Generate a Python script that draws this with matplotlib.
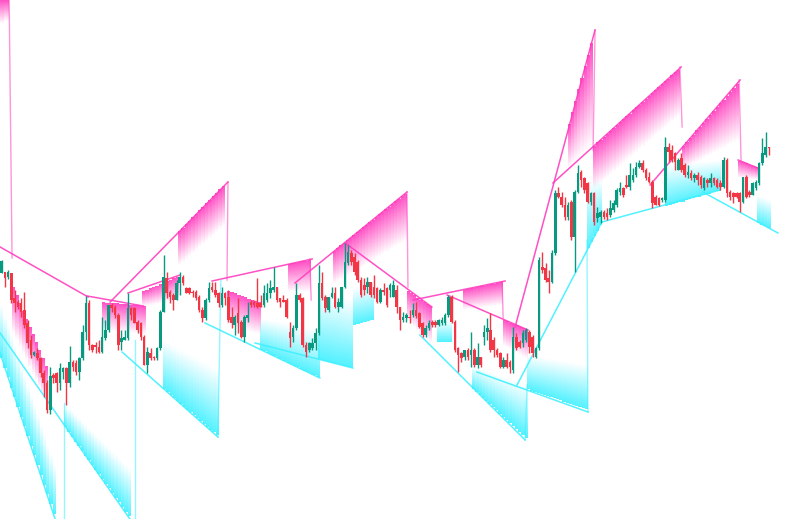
import numpy as np
import matplotlib
matplotlib.use('Agg')
import matplotlib.pyplot as plt

# candle data, price units (one bar per entry)
opens = [246, 247, 242, 246, 221, 217, 216, 209, 196, 179, 164, 166, 161, 146, 136, 109, 144, 146, 136, 147,
         151, 136, 157, 156, 147, 161, 187, 216, 174, 174, 172, 167, 181, 189, 214, 212, 204, 177, 179, 181,
         211, 211, 197, 196, 182, 154, 166, 162, 161, 171, 207, 241, 227, 224, 219, 236, 242, 231, 231, 227,
         227, 222, 209, 201, 219, 232, 229, 226, 214, 226, 222, 202, 194, 206, 197, 182, 201, 217, 217, 216,
         216, 214, 219, 226, 229, 232, 221, 219, 219, 187, 182, 191, 224, 221, 174, 169, 171, 176, 186, 236,
         222, 209, 222, 226, 212, 212, 232, 256, 266, 262, 257, 239, 234, 232, 237, 232, 231, 217, 229, 231,
         229, 222, 229, 212, 199, 201, 202, 204, 209, 206, 196, 184, 191, 197, 197, 194, 196, 196, 204, 222,
         197, 171, 166, 162, 169, 164, 169, 154, 162, 182, 187, 189, 179, 169, 166, 152, 159, 157, 149, 182,
         177, 176, 179, 187, 182, 162, 171, 252, 251, 241, 237, 266, 326, 322, 314, 302, 317, 282, 327, 347,
         341, 336, 317, 326, 301, 302, 307, 306, 304, 309, 314, 327, 331, 334, 332, 339, 344, 352, 356, 349,
         342, 337, 322, 321, 319, 319, 372, 369, 366, 349, 361, 354, 344, 346, 341, 344, 342, 331, 339, 336,
         341, 339, 336, 332, 359, 327, 326, 326, 326, 317, 342, 327, 324, 331, 336, 356, 364, 372]
highs = [259, 247, 249, 246, 229, 219, 221, 227, 199, 184, 168, 171, 162, 149, 139, 152, 146, 147, 156, 152,
         152, 173, 159, 159, 162, 194, 223, 219, 175, 177, 179, 202, 199, 214, 216, 214, 206, 189, 189, 226,
         212, 212, 199, 197, 184, 172, 171, 163, 172, 209, 264, 247, 229, 226, 239, 247, 244, 232, 232, 229,
         229, 224, 212, 221, 237, 237, 237, 227, 232, 227, 229, 212, 204, 221, 199, 204, 217, 219, 219, 241,
         224, 234, 236, 239, 252, 232, 221, 224, 221, 197, 194, 236, 226, 222, 177, 177, 181, 191, 254, 247,
         224, 222, 232, 232, 221, 232, 276, 274, 269, 266, 259, 242, 241, 242, 237, 244, 232, 231, 236, 232,
         236, 239, 234, 212, 207, 206, 209, 216, 217, 207, 197, 194, 199, 199, 199, 200, 202, 206, 224, 224,
         199, 172, 167, 169, 171, 187, 171, 176, 162, 194, 201, 206, 182, 171, 167, 162, 166, 159, 192, 186,
         179, 189, 191, 189, 184, 172, 262, 267, 256, 249, 269, 329, 332, 327, 322, 317, 319, 329, 354, 349,
         342, 337, 327, 327, 312, 309, 309, 311, 319, 319, 331, 337, 332, 344, 356, 351, 357, 359, 359, 351,
         347, 339, 324, 322, 322, 382, 376, 374, 367, 361, 366, 356, 354, 349, 346, 347, 344, 342, 341, 346,
         342, 341, 339, 362, 361, 329, 327, 327, 327, 342, 344, 329, 337, 339, 357, 381, 387, 372]
lows = [246, 232, 240, 216, 207, 210, 202, 191, 171, 161, 163, 159, 142, 122, 106, 105, 136, 127, 129, 140,
        114, 132, 148, 144, 139, 159, 179, 169, 167, 166, 166, 166, 179, 187, 207, 201, 169, 169, 179, 179,
        199, 196, 186, 179, 154, 146, 159, 159, 159, 169, 207, 221, 216, 209, 219, 224, 234, 226, 225, 222,
        219, 207, 197, 199, 217, 227, 222, 212, 212, 214, 197, 191, 184, 186, 181, 177, 197, 212, 212, 211,
        212, 212, 217, 221, 227, 217, 212, 217, 201, 172, 177, 189, 217, 172, 162, 167, 169, 169, 184, 219,
        207, 207, 221, 211, 207, 211, 231, 254, 254, 244, 237, 222, 224, 226, 222, 221, 216, 216, 224, 212,
        222, 222, 206, 189, 197, 197, 196, 202, 201, 191, 182, 182, 189, 192, 192, 193, 194, 194, 202, 196,
        167, 147, 157, 159, 159, 152, 152, 151, 152, 174, 179, 167, 162, 162, 151, 151, 151, 146, 146, 169,
        171, 172, 177, 166, 162, 161, 169, 246, 237, 226, 236, 264, 321, 312, 299, 299, 279, 247, 326, 332,
        326, 316, 314, 294, 297, 296, 300, 299, 302, 307, 312, 324, 322, 331, 329, 337, 342, 351, 347, 339,
        336, 311, 314, 313, 317, 317, 357, 357, 349, 349, 347, 342, 341, 339, 337, 334, 331, 329, 332, 332,
        334, 331, 329, 331, 322, 319, 316, 321, 307, 316, 321, 322, 324, 329, 334, 354, 362, 364]
closes = [258, 241, 247, 219, 216, 212, 207, 194, 176, 164, 167, 161, 146, 136, 109, 143, 141, 136, 151, 151,
          136, 157, 152, 147, 161, 187, 216, 174, 169, 172, 167, 182, 189, 214, 211, 204, 174, 181, 182, 211,
          204, 196, 189, 182, 154, 167, 161, 161, 171, 207, 242, 226, 222, 219, 236, 242, 236, 226, 226, 226,
          221, 209, 201, 219, 231, 229, 224, 216, 226, 221, 199, 196, 202, 196, 182, 202, 204, 214, 214, 212,
          212, 226, 226, 231, 232, 219, 217, 217, 202, 181, 191, 224, 219, 174, 167, 176, 176, 186, 236, 221,
          211, 222, 226, 212, 217, 232, 257, 267, 257, 247, 239, 224, 229, 237, 224, 224, 217, 229, 227, 214,
          234, 234, 212, 199, 202, 204, 201, 209, 203, 192, 184, 191, 196, 194, 194, 199, 199, 204, 222, 197,
          169, 164, 161, 169, 162, 169, 154, 162, 154, 187, 191, 169, 169, 164, 152, 159, 152, 152, 182, 171,
          172, 186, 189, 172, 166, 171, 259, 249, 239, 237, 266, 326, 322, 314, 302, 314, 282, 327, 346, 339,
          329, 317, 326, 297, 306, 307, 302, 302, 311, 316, 329, 331, 324, 332, 344, 344, 352, 356, 349, 341,
          337, 316, 314, 314, 321, 372, 367, 359, 357, 359, 349, 344, 347, 341, 344, 339, 334, 341, 336, 341,
          336, 332, 332, 359, 326, 322, 322, 322, 317, 342, 322, 324, 336, 337, 356, 366, 372, 371]

# pink (resistance) trend lines: bar0, price0, bar1, price1
pink_lines = [(-0.5, 272, 26.7, 222), (26.4, 223, 43.7, 213), (33.5, 217, 69.9, 337), (39.0, 226, 55.1, 244),
              (65.0, 238, 95.9, 260), (90.6, 236, 125.2, 327), (106.1, 276, 132.9, 212),
              (127.1, 219, 155.5, 238), (137.6, 224, 162.6, 189), (158.6, 192, 183.3, 489),
              (170.3, 336, 209.9, 452), (200.3, 334, 228.1, 439), (227.5, 359, 233.6, 351)]
pink_drops = [(2.3, 519, 3.2, 261), (69.9, 337, 69.6, 239), (95.2, 260, 95.6, 219), (125.2, 327, 125.5, 232),
              (154.6, 237, 154.9, 201), (183.3, 489, 182.7, 369), (209.5, 452, 210.2, 392),
              (227.8, 439, 228.4, 359)]
# cyan (support) trend lines
cyan_lines = [(-0.5, 186, 39.6, 0), (-0.5, 166, 16.5, 0), (37.2, 167, 66.8, 82), (62.8, 196, 98.3, 141),
              (78.3, 176, 108.5, 151), (129.2, 184, 161.7, 79), (146.8, 147, 181.1, 107),
              (159.2, 134, 185.4, 297), (185.4, 297, 221.9, 329), (216.6, 327, 239.8, 286)]
cyan_drops = [(19.2, 116, 19.2, 0), (41.2, 179, 41.2, 0), (66.8, 82, 67.7, 239), (161.7, 79, 162.3, 134),
              (181.1, 107, 180.8, 279)]

# gradient zones: bar0, bar1, line price at bar0/bar1, faded edge price at bar0/bar1
pink_zones = [(-0.5, 2.0, 519, 519, 494, 499), (3.2, 14.3, 236, 149, 189, 114), (31.0, 44.3, 217, 213, 189, 184),
              (43.3, 54.5, 227, 243, 212, 219), (54.5, 69.0, 286, 335, 252, 294), (69.6, 79.8, 229, 216, 194, 184),
              (88.4, 95.2, 255, 259, 227, 227), (102.4, 125.2, 267, 327, 234, 279), (125.2, 132.9, 229, 212, 199, 174),
              (142.5, 154.6, 229, 237, 209, 214), (154.9, 162.6, 200, 189, 174, 159), (175.0, 182.7, 389, 482, 349, 374),
              (182.7, 209.5, 372, 451, 329, 404), (210.2, 227.5, 371, 437, 349, 379), (227.5, 233.6, 359, 351, 341, 339)]
cyan_zones = [(-0.5, 16.5, 166, 0, 219, 49), (19.2, 39.6, 94, 0, 116, 49), (49.8, 66.8, 131, 82, 179, 149),
              (79.8, 98.3, 170, 141, 201, 189), (97.7, 108.5, 160, 151, 229, 219), (108.5, 114.7, 194, 199, 231, 236),
              (134.5, 139.1, 177, 177, 199, 199), (145.3, 162.3, 132, 79, 154, 134), (162.3, 181.1, 130, 109, 164, 154),
              (180.8, 185.4, 268, 297, 339, 339), (204.9, 221.9, 312, 329, 354, 359), (233.3, 237.4, 297, 290, 324, 319)]

PINK = '#ff3dbe'
CYAN = '#3ff0ff'
UP = '#089981'
DOWN = '#f23645'


def grad_zone(ax, zone, color, amax=0.9):
    i0, i1, l0, l1, f0, f1 = zone
    n = max(int(round(i1 - i0)), 1)
    xs = np.linspace(i0, i1, n + 1)
    xc = (xs[:-1] + xs[1:]) / 2
    line = np.interp(xc, [i0, i1], [l0, l1])
    fade = np.interp(xc, [i0, i1], [f0, f1])
    pmin, pmax = min(l0, l1, f0, f1), max(l0, l1, f0, f1)
    ps = np.linspace(pmin, pmax, 300)
    t = (ps[:, None] - line[None, :]) / (fade - line)[None, :]
    img = np.zeros((len(ps), n, 4))
    img[..., :3] = matplotlib.colors.to_rgb(color)
    img[..., 3] = np.where((t >= 0) & (t <= 1), (1 - t) * amax, 0)
    ax.imshow(img, extent=(i0, i1, pmin, pmax), origin='lower', aspect='auto',
              interpolation='nearest', zorder=1)


fig = plt.figure(figsize=(8.1, 5.19), dpi=100)
ax = fig.add_axes([0, 0, 1, 1])
ax.axis('off')

for z in pink_zones:
    grad_zone(ax, z, PINK)
for z in cyan_zones:
    grad_zone(ax, z, CYAN)

for x0, y0, x1, y1 in pink_lines:
    ax.plot([x0, x1], [y0, y1], color=PINK, lw=1.1, alpha=0.9, zorder=2)
for x0, y0, x1, y1 in pink_drops:
    ax.plot([x0, x1], [y0, y1], color=PINK, lw=1.0, alpha=0.55, zorder=2)
for x0, y0, x1, y1 in cyan_lines:
    ax.plot([x0, x1], [y0, y1], color=CYAN, lw=1.1, alpha=0.9, zorder=2)
for x0, y0, x1, y1 in cyan_drops:
    ax.plot([x0, x1], [y0, y1], color=CYAN, lw=1.0, alpha=0.55, zorder=2)

o = np.array(opens)
h = np.array(highs)
l = np.array(lows)
c = np.array(closes)
idx = np.arange(len(o))
cols = np.where(c >= o, UP, DOWN)
ax.vlines(idx, l, h, colors=cols, lw=1.0, zorder=3)
body = np.maximum(np.abs(c - o), 1.5)
ax.bar(idx, body, bottom=np.minimum(o, c), width=0.8, color=cols, zorder=4, linewidth=0)

ax.set_xlim(-0.525, 249.7)
ax.set_ylim(0, 519)
fig.savefig('out.png', dpi=100)
